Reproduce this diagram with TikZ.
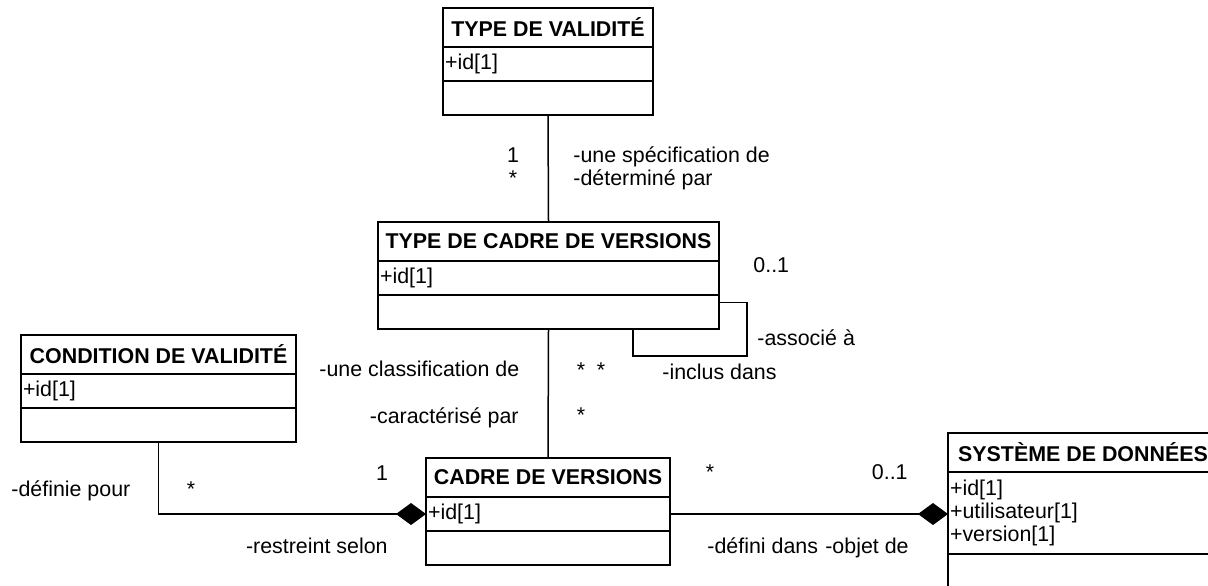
\documentclass[tikz,border=0pt]{standalone}
\usepackage{fontspec}
\setmainfont{Liberation Sans}
\usetikzlibrary{arrows.meta}
\tikzset{
  umltitle/.style={draw,line width=1pt,outer sep=0pt,inner sep=0pt,anchor=north,
    minimum height=19.5pt,font=\bfseries\fontsize{10.7}{11.3}\selectfont},
  umlpart/.style={draw,line width=1pt,outer sep=0pt,inner xsep=1pt,inner ysep=0pt,
    anchor=north,minimum height=17pt,align=left,font=\fontsize{10.7}{11.3}\selectfont},
  assoc/.style={line width=0.75pt},
  compo/.style={assoc,-{Diamond[length=15pt,width=11pt]}},
  lbl/.style={inner sep=0pt,anchor=base west,font=\fontsize{10.7}{11.3}\selectfont},
}

\begin{document}
\begin{tikzpicture}[x=0.5pt,y=-0.5pt,line join=miter]
\useasboundingbox (0,0) rectangle (1208,585);
% classes
\node[umltitle,minimum width=105pt] (tvT) at (548,8) {TYPE DE VALIDITÉ};
\node[umlpart,text width=103pt] (tvA) at (tvT.south) {+id[1]};
\node[umlpart,text width=103pt] (tvO) at (tvA.south) {};
\node[umltitle,minimum width=170.5pt] (tcvT) at (548.5,222) {TYPE DE CADRE DE VERSIONS};
\node[umlpart,text width=168.5pt] (tcvA) at (tcvT.south) {+id[1]};
\node[umlpart,text width=168.5pt] (tcvO) at (tcvA.south) {};
\node[umltitle,minimum width=137.5pt] (cvalT) at (158.5,335) {CONDITION DE VALIDITÉ};
\node[umlpart,text width=135.5pt] (cvalA) at (cvalT.south) {+id[1]};
\node[umlpart,text width=135.5pt] (cvalO) at (cvalA.south) {};
\node[umltitle,minimum width=122pt] (cvT) at (548,458) {CADRE DE VERSIONS};
\node[umlpart,text width=120pt] (cvA) at (cvT.south) {+id[1]};
\node[umlpart,text width=120pt] (cvO) at (cvA.south) {};
\node[umltitle,minimum width=135pt] (sdT) at (1083,433) {SYSTÈME DE DONNÉES};
\node[umlpart,text width=133pt,minimum height=41pt] (sdA) at (sdT.south) {+id[1]\\+utilisateur[1]\\+version[1]};
\node[umlpart,text width=133pt,minimum height=23pt] (sdO) at (sdA.south) {};
% associations
\draw[assoc] (tvO.south) -- (tcvT.north);
\draw[assoc] (tcvO.south) -- (cvT.north);
\coordinate (loopC) at (747,356);
\draw[assoc] ([yshift=4.75pt]tcvO.east) -| (loopC) -| ([xshift=42.25pt]tcvO.south);
\draw[compo] (cvalO.south) |- (cvA.west);
\draw[compo] (cvA.east) -- (cvA.east -| sdA.west);
% role names and multiplicities
\node[lbl,anchor=base] (m1) at (513,162) {1};
\node[lbl,anchor=base] (m2) at (513,185) {*};
\node[lbl] (r1) at (573,162) {-une spécification de};
\node[lbl] (r2) at (573,185) {-déterminé par};
\node[lbl] (m3) at (753,272) {0..1};
\node[lbl] (r3) at (757,345) {-associé à};
\node[lbl] (r4) at (662,379) {-inclus dans};
\node[lbl,anchor=base] (m4) at (581,377) {*};
\node[lbl,anchor=base] (m5) at (601,377) {*};
\node[lbl,anchor=base] (m6) at (581,422) {*};
\node[lbl] (r5) at (319,376) {-une classification de};
\node[lbl,anchor=base east] (r6) at (519,423) {-caractérisé par};
\node[lbl] (r7) at (11,496) {-définie pour};
\node[lbl,anchor=base] (m7) at (191,496) {*};
\node[lbl,anchor=base] (m8) at (382,480) {1};
\node[lbl,anchor=base east] (r8) at (388,553) {-restreint selon};
\node[lbl,anchor=base] (m9) at (710,479) {*};
\node[lbl,anchor=base east] (m10) at (908,479) {0..1};
\node[lbl] (r9) at (707,553) {-défini dans};
\node[lbl,anchor=base east] (r10) at (909,553) {-objet de};
\end{tikzpicture}
\end{document}
